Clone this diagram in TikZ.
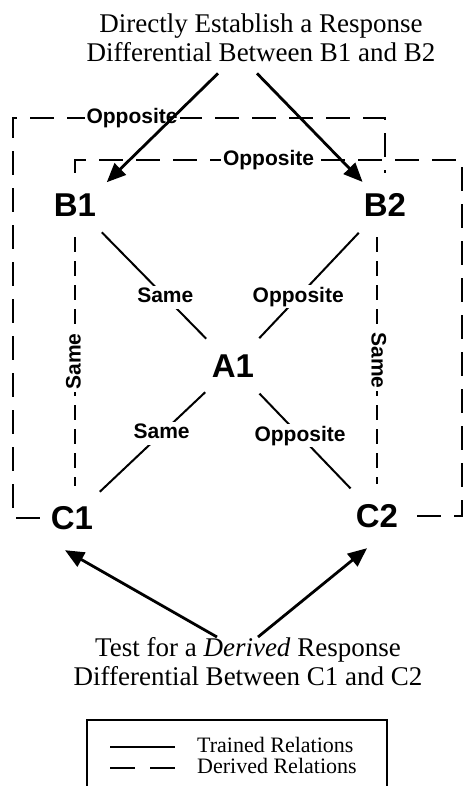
\documentclass[tikz,border=0pt]{standalone}
\usepackage{fontspec}
\setmainfont{Liberation Serif}
\newfontfamily\chifont{Liberation Sans}
\usetikzlibrary{arrows.meta}

\tikzset{
  stim/.style={circle, minimum size=64pt, inner sep=0pt,
    font=\chifont\bfseries\fontsize{33}{33}\selectfont},
  rel/.style={fill=white, inner sep=2pt, text height=15pt, text depth=4pt,
    font=\chifont\bfseries\fontsize{21}{21}\selectfont},
  trained/.style={line width=2pt, shorten <=6pt, shorten >=6pt},
  derived/.style={line width=2.6pt, dash pattern=on 24pt off 13pt},
  fat/.style={line width=2.8pt, -{Triangle[length=19pt, width=16pt]}},
  caption/.style={anchor=north, inner sep=0pt, align=center,
    font=\fontsize{27}{29}\selectfont},
}

\begin{document}
\begin{tikzpicture}[x=1pt, y=-1pt]
			\useasboundingbox (0,0) rectangle (466,786);
			% Stimuli
			\node[stim] (b1) at (75,205) {B1};
			\node[stim] (b2) at (385,205) {B2};
			\node[stim] (a1) at (233,366) {A1};
			\node[stim] (c1) at (72,518) {C1};
			\node[stim] (c2) at (377,516) {C2};
			% Captions
			\node[caption] (ttl) at (261,14)
				{Directly Establish a Response\\Differential Between B1 and B2};
			\node[caption] (tst) at (248,637)
				{Test for a \textit{Derived} Response\\Differential Between C1 and C2};
			% Trained relations
			\draw[trained] (b1) -- node[rel, pos=0.6] (rb1) {Same} (a1);
			\draw[trained] (b2) -- node[rel, pos=0.6] (rb2) {Opposite} (a1);
			\draw[trained] (c1) -- node[rel, pos=0.58] (rc1) {Same} (a1);
			\draw[trained] (c2) -- node[rel, pos=0.55] (rc2) {Opposite} (a1);
			% Derived relations
			\coordinate (tl) at (13,118);
			\coordinate (tr) at (462,160);
			\draw[derived, dash pattern=on 15pt off 9pt] (b1.south)
				-- node[rel, rotate=90] (dbc1) {Same} (b1.south |- c1.north);
			\draw[derived, dash pattern=on 15pt off 9pt] (c2.north |- b2.south)
				-- node[rel, rotate=-90] (dbc2) {Same} (c2.north);
			\draw[derived] (c1.west) -| (tl)
				-- node[rel, pos=0.32] (dcb2) {Opposite} (tl -| b2.north) -- (b2.north);
			\draw[derived] (b1.north) -- (b1.north |- tr)
				-- node[rel] (dbc) {Opposite} (tr) |- (c2.east);
			% Arrows to and from the captions
			\draw[fat] ([xshift=-43pt, yshift=-11pt]ttl.south) -- ([xshift=9pt]b1.north east);
			\draw[fat] ([xshift=-4pt, yshift=-11pt]ttl.south) -- (b2);
			\draw[fat] ([xshift=-31pt]tst.north) -- ([xshift=-7pt]c1.south);
			\draw[fat] ([xshift=10pt]tst.north) -- ([xshift=-10pt]c2.south);
			% Legend
			\draw[line width=2pt] (87,786) |- (387,720) -- (387,786);
			\draw[line width=2.2pt] (110,747) -- (175,747);
			\draw[line width=2.2pt, dash pattern=on 25pt off 15pt] (110,768) -- (175,768);
			\node[anchor=base west, inner sep=0pt, font=\fontsize{22}{22}\selectfont]
				(lgt) at (197,752) {Trained Relations};
			\node[anchor=base west, inner sep=0pt, font=\fontsize{22}{22}\selectfont]
				(lgd) at (197,773) {Derived Relations};
		\end{tikzpicture}
\end{document}
